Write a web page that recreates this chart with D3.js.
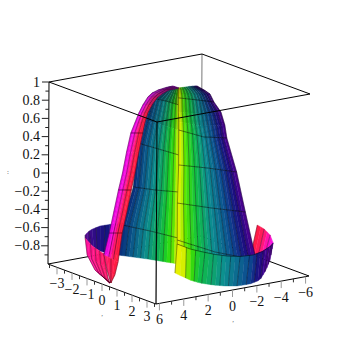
<!DOCTYPE html>
<html>
<head>
<title>plot3d surface</title>
<script src="https://d3js.org/d3.v7.min.js"></script>
<style>
    html, body { margin: 0; padding: 0; background: white; }
    text { font-family: "Liberation Serif", serif; font-size: 14px; fill: #111; }
</style>
</head>
<body>
<div id="chart"></div>
<script>
// axis ranges and ticks
var xDomain = [-6.28, 6.28];
var yDomain = [-3.6, 3.6];
var zDomain = [-1, 1];
var xMajor = [6, 4, 2, 0, -2, -4, -6];
var xMinor = [5, 3, 1, -1, -3, -5];
var yMajor = [-3, -2, -1, 0, 1, 2, 3];
var yMinor = [-3.5, -2.5, -1.5, -0.5, 0.5, 1.5, 2.5, 3.5];
var zMajor = [-0.8, -0.6, -0.4, -0.2, 0, 0.2, 0.4, 0.6, 0.8, 1];
var zMinor = [-0.9, -0.7, -0.5, -0.3, -0.1, 0.1, 0.3, 0.5, 0.7, 0.9];

// surface sheets, each row is a list of [x, z] read along the diagonal section of the box
var flapRows = [
    [[4.50, -0.663], [4.26, -0.605], [3.78, -0.556], [3.20, -0.528], [2.57, -0.511]],
    [[4.50, -0.696], [4.16, -0.780], [3.78, -0.831], [3.30, -0.859], [2.57, -0.862]]
];
var flapColors = ["#5a0a90", "#3a0a8a", "#201080", "#101c80", "#0c2a80"];

var farPinkRows = [
    [[-3.78, -0.466], [-4.11, -0.506], [-4.40, -0.569], [-4.55, -0.655]],
    [[-3.44, -0.832], [-3.83, -0.806], [-4.21, -0.736], [-4.55, -0.655]]
];
var farPinkColors = ["#ff1c40", "#ff1c60", "#ff10c0", "#f010e8"];

var domeLeftRows = [
    [[0.51, 1.006], [0.26, 1.008], [0.02, 1.000]],
    [[1.37, 0.876], [0.65, 0.850], [0.02, 0.813]],
    [[1.71, 0.630], [0.84, 0.585], [0.02, 0.538]],
    [[2.00, 0.375], [0.99, 0.319], [0.02, 0.264]],
    [[2.19, -0.111], [1.13, -0.133], [0.02, -0.143]],
    [[2.72, -0.534], [1.37, -0.586], [0.02, -0.649]],
    [[2.91, -0.866], [1.47, -0.895], [0.02, -0.934]]
];
var domeLeftStops = [0, 0.22, 0.45, 0.68, 0.82, 0.93, 1];
var domeLeftColors = ["#0a2a7a", "#0b5a8a", "#0c8c8c", "#10b050", "#20d818", "#70e800", "#f0f000"];
var domeLeftShade = [0.6, 0.8, 0.95, 1, 1, 1, 1];

var domeRightRows = [
    [[0.05, 1.000], [-0.46, 1.021], [-0.84, 1.031]],
    [[0.05, 0.968], [-0.65, 0.985], [-1.23, 0.985]],
    [[0.05, 0.935], [-0.79, 0.942], [-1.47, 0.949]],
    [[0.05, 0.891], [-0.89, 0.877], [-1.66, 0.864]],
    [[0.05, 0.736], [-0.99, 0.725], [-2.00, 0.757]],
    [[0.02, 0.626], [-1.08, 0.594], [-2.19, 0.616]],
    [[0.02, 0.538], [-1.18, 0.474], [-2.29, 0.475]],
    [[0.02, 0.154], [-1.37, 0.135], [-2.77, 0.106]],
    [[0.07, -0.265], [-1.56, -0.302], [-3.20, -0.329]],
    [[0.07, -0.671], [-1.76, -0.784], [-3.73, -0.851]],
    [[0.07, -0.781], [-1.76, -0.894], [-3.73, -0.873]]
];
var domeRightStops = [0, 0.05, 0.12, 0.28, 0.47, 0.72, 0.88, 1];
var domeRightColors = ["#f0f000", "#d0f000", "#50e800", "#10c040", "#0c9090", "#0c4a90", "#1a1080", "#500090"];
var domeRightShade = [0.7, 0.75, 0.8, 0.85, 0.9, 0.95, 1, 1, 1, 1, 1];

var stripRows = [
    [[0.31, 1.019], [0.02, 1.000]],
    [[0.65, 0.999], [0.22, 0.987]],
    [[1.03, 0.967], [0.51, 0.973]],
    [[1.32, 0.931], [0.84, 0.925]],
    [[1.52, 0.885], [1.08, 0.879]],
    [[1.76, 0.795], [1.32, 0.799]],
    [[1.95, 0.705], [1.52, 0.709]],
    [[2.14, 0.593], [1.66, 0.598]],
    [[2.33, 0.481], [1.76, 0.487]],
    [[2.53, 0.270], [1.95, 0.265]],
    [[2.72, 0.037], [2.12, 0.044]],
    [[2.91, -0.151], [2.29, -0.145]],
    [[3.13, -0.395], [2.50, -0.389]],
    [[3.34, -0.629], [2.72, -0.622]],
    [[3.59, -0.873], [2.91, -0.943]]
];
var stripStops = [0, 0.3, 0.5, 0.65, 1];
var stripColors = ["#e000e0", "#ff14e0", "#ff1090", "#ff2050", "#ff1c3c"];
var stripShade = [0.1, 0.15, 0.25, 0.4, 0.6, 0.8, 0.95, 1, 1, 1, 1, 1, 1, 1, 1];

var tipRows = [
    [[3.59, -0.873], [2.91, -0.943]],
    [[3.44, -1.036], [3.06, -1.087]],
    [[3.25, -1.177], [3.25, -1.177]]
];
var tipColors = ["#ff1c70", "#ff1c3c"];

var nearPinkRows = [
    [[4.50, -0.696], [4.16, -0.780], [3.87, -0.821], [3.59, -0.862]],
    [[4.40, -0.881], [4.11, -0.933], [3.83, -0.963], [3.49, -1.015]],
    [[4.02, -1.042], [3.78, -1.084], [3.59, -1.115], [3.39, -1.124]],
    [[3.30, -1.177], [3.30, -1.177], [3.30, -1.177], [3.30, -1.177]]
];
var nearPinkColors = ["#ff10a0", "#ff1480", "#ff1868"];

var bandRows = [
    [[0.07, -0.715], [-0.55, -0.763], [-1.18, -0.790], [-1.76, -0.811], [-2.33, -0.822], [-2.96, -0.821],
        [-3.59, -0.797], [-4.02, -0.755], [-4.36, -0.702], [-4.48, -0.678], [-4.55, -0.655]],
    [[0.17, -1.035], [-0.55, -1.104], [-1.03, -1.132], [-1.66, -1.147], [-2.24, -1.152], [-2.82, -1.146],
        [-3.44, -1.118], [-3.92, -1.069], [-4.21, -0.956], [-4.40, -0.844], [-4.55, -0.655]]
];
var bandStops = [0, 0.05, 0.08, 0.11, 0.18, 0.38, 0.58, 0.67, 0.78, 1];
var bandColors = ["#e8f000", "#e0f000", "#90e800", "#40e000", "#10c040", "#0c9090", "#0c4a90", "#1a1080", "#450090", "#500090"];

var width = 355, height = 355;

var svg = d3.select("#chart").append("svg")
    .attr("width", width)
    .attr("height", height);

var sx = d3.scaleLinear().domain(xDomain).range([0, 1]);
var sy = d3.scaleLinear().domain(yDomain).range([0, 1]);
var sz = d3.scaleLinear().domain(zDomain).range([0, 1]);

// the box edges on the page, from the back bottom corner
var origin = [201, 236], ex = [-153, 28], ey = [108, 40], ez = [1, -182];

function project(x, y, z) {
    var a = sx(x), b = sy(y), c = sz(z);
    return [origin[0] + a * ex[0] + b * ey[0] + c * ez[0],
        origin[1] + a * ex[1] + b * ey[1] + c * ez[1]];
}

// sheets live on the diagonal section of the box
function section(p) {
    return project(p[0], -p[0] * yDomain[1] / xDomain[1], p[1]);
}

var line = d3.line();

function edge(g, a, b, color) {
    g.append("line")
        .attr("x1", project(a[0], a[1], a[2])[0])
        .attr("y1", project(a[0], a[1], a[2])[1])
        .attr("x2", project(b[0], b[1], b[2])[0])
        .attr("y2", project(b[0], b[1], b[2])[1])
        .attr("stroke", color)
        .attr("stroke-width", 1);
}

function drawSheet(rows, opts) {
    var g = svg.append("g");
    var n = opts.strips;
    var stops = opts.stops || d3.range(opts.colors.length).map(function (i) {
        return i / (opts.colors.length - 1);
    });
    var color = d3.scaleLinear().domain(stops).range(opts.colors);
    var shade = opts.shade || rows.map(function () { return 1; });
    var tint = opts.tint || "#000";

    // interpolateArray hands back the same array every call, so copy it
    var pieces = rows.map(function (row) {
        var p = d3.piecewise(d3.interpolateArray, row.map(section));
        return function (t) { return p(t).slice(); };
    });

    for (var i = 0; i < rows.length - 1; i++) {
        for (var j = 0; j < n; j++) {
            var t0 = j / n, t1 = (j + 1) / n;
            var c = d3.interpolateRgb(tint, color((t0 + t1) / 2))((shade[i] + shade[i + 1]) / 2);
            g.append("path")
                .attr("d", line([pieces[i](t0), pieces[i](t1), pieces[i + 1](t1), pieces[i + 1](t0)]) + "Z")
                .attr("fill", c)
                .attr("stroke", c)
                .attr("stroke-width", 0.4);
        }
    }

    // column lines
    d3.range(0, n + 1, opts.every || 2).forEach(function (j) {
        g.append("path")
            .attr("d", line(pieces.map(function (p) { return p(j / n); })))
            .attr("fill", "none")
            .attr("stroke", "#000")
            .attr("stroke-opacity", 0.5)
            .attr("stroke-width", 0.7);
    });

    // row lines
    (opts.rowLines || []).forEach(function (i) {
        g.append("path")
            .attr("d", line(rows[i].map(section)))
            .attr("fill", "none")
            .attr("stroke", "#000")
            .attr("stroke-opacity", 0.6)
            .attr("stroke-width", 0.8);
    });
}

// back of the box
var back = svg.append("g");
var x0 = xDomain[0], x1 = xDomain[1], y0 = yDomain[0], y1 = yDomain[1];
edge(back, [x0, y0, 1], [x0, y0, -1], "#777");
edge(back, [x1, y1, 1], [x1, y1, -1], "#999");
edge(back, [x1, y0, 1], [x0, y0, 1], "#000");
edge(back, [x0, y0, 1], [x0, y1, 1], "#000");
edge(back, [x1, y0, -1], [x0, y0, -1], "#000");
edge(back, [x0, y0, -1], [x0, y1, -1], "#000");

// surface, far sheets first
drawSheet(flapRows, {strips: 10, colors: flapColors});
drawSheet(farPinkRows, {strips: 6, colors: farPinkColors});
drawSheet(domeLeftRows, {strips: 16, colors: domeLeftColors, stops: domeLeftStops,
    shade: domeLeftShade, rowLines: [1, 3, 4, 5]});
drawSheet(domeRightRows, {strips: 22, colors: domeRightColors, stops: domeRightStops,
    shade: domeRightShade, rowLines: [3, 6, 7, 8, 9]});
drawSheet(nearPinkRows, {strips: 8, colors: nearPinkColors});
drawSheet(stripRows, {strips: 6, colors: stripColors, stops: stripStops, shade: stripShade,
    tint: "#6a0a90", every: 2, rowLines: [8, 11, 13]});
drawSheet(tipRows, {strips: 4, colors: tipColors, every: 2});
drawSheet(bandRows, {strips: 28, colors: bandColors, stops: bandStops, rowLines: [0]});

// front of the box and the axes
var front = svg.append("g");
edge(front, [x1, y0, 1], [x1, y0, -1], "#000");
edge(front, [x1, y1, 1], [x1, y1, -1], "#000");
edge(front, [x1, y0, 1], [x1, y1, 1], "#000");
edge(front, [x1, y1, 1], [x0, y1, 1], "#000");
edge(front, [x1, y0, -1], [x1, y1, -1], "#000");
edge(front, [x1, y1, -1], [x0, y1, -1], "#000");

function label(v) {
    return String(v).replace("-", "\u2212");
}

function tickDown(values, at, len, color) {
    front.append("g").selectAll("line").data(values).join("line")
        .attr("x1", function (d) { return at(d)[0]; })
        .attr("y1", function (d) { return at(d)[1]; })
        .attr("x2", function (d) { return at(d)[0]; })
        .attr("y2", function (d) { return at(d)[1] + len; })
        .attr("stroke", color);
}

function xAt(d) { return project(d, y1, -1); }
function yAt(d) { return project(x1, d, -1); }
function zAt(d) { return project(x1, y0, d); }

tickDown(xMajor, xAt, 7, "#999");
tickDown(xMinor, xAt, 3.5, "#333");
tickDown(yMajor, yAt, 7, "#999");
tickDown(yMinor, yAt, 3.5, "#333");

front.append("g").selectAll("line").data(zMajor.concat(zMinor)).join("line")
    .attr("x1", function (d) { return zAt(d)[0]; })
    .attr("y1", function (d) { return zAt(d)[1]; })
    .attr("x2", function (d) { return zAt(d)[0] - (zMajor.indexOf(d) >= 0 ? 7 : 3.5); })
    .attr("y2", function (d) { return zAt(d)[1]; })
    .attr("stroke", "#222");

function tickLabels(values, at) {
    front.append("g").selectAll("text").data(values).join("text")
        .attr("x", function (d) { return at(d)[0]; })
        .attr("y", function (d) { return at(d)[1] + 16; })
        .attr("dy", "0.33em")
        .attr("text-anchor", "middle")
        .text(label);
}
tickLabels(xMajor, xAt);
tickLabels(yMajor, yAt);

front.append("g").selectAll("text").data(zMajor).join("text")
    .attr("x", 40)
    .attr("y", function (d) { return zAt(d)[1]; })
    .attr("dy", "0.33em")
    .attr("text-anchor", "end")
    .text(label);

// the axis names came out as tiny marks
var axisNames = [[",", 102, 316], [",", 233, 322], [":", 8, 174]];
svg.append("g").selectAll("text").data(axisNames).join("text")
    .attr("x", function (d) { return d[1]; })
    .attr("y", function (d) { return d[2]; })
    .attr("text-anchor", "middle")
    .style("font-size", "7px")
    .style("fill", "#555")
    .text(function (d) { return d[0]; });
</script>
</body>
</html>
